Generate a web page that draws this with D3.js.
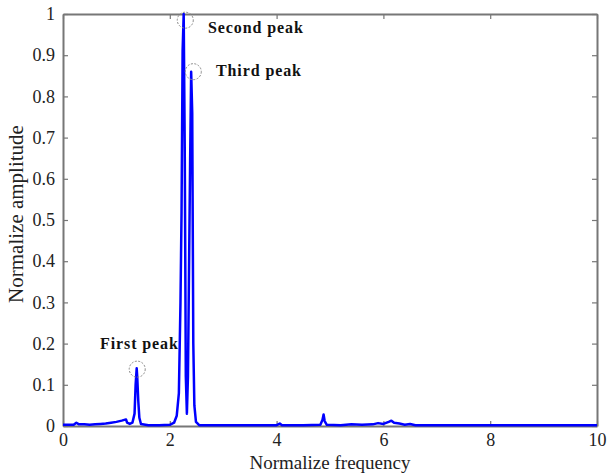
<!DOCTYPE html>
<html>
<head>
<meta charset="utf-8">
<script src="https://cdn.jsdelivr.net/npm/d3@7"></script>
<style>
  body { margin: 0; background: #fff; }
  text { font-family: "Liberation Serif", "Times New Roman", serif; }
</style>
</head>
<body>
<svg id="chart" width="607" height="474"></svg>
<script>
// spectrum
const freq = [0, 0.1, 0.2, 0.25, 0.3, 0.4, 0.5, 0.6, 0.7, 0.8, 0.9, 1.0, 1.1, 1.18, 1.2, 1.25, 1.3, 1.34, 1.36, 1.38, 1.39, 1.41, 1.43, 1.46, 1.6, 1.8, 2.0, 2.08, 2.13, 2.17, 2.2, 2.22, 2.24, 2.26, 2.28, 2.3, 2.32, 2.34, 2.36, 2.38, 2.4, 2.42, 2.44, 2.46, 2.49, 2.55, 2.7, 3.0, 3.5, 4.0, 4.06, 4.1, 4.5, 4.82, 4.86, 4.88, 4.9, 4.94, 5.2, 5.4, 5.6, 5.8, 5.9, 6.0, 6.1, 6.15, 6.2, 6.3, 6.4, 6.5, 6.6, 7.0, 8.0, 9.0, 10];
const amp = [0.003, 0.003, 0.003, 0.008, 0.004, 0.004, 0.003, 0.004, 0.005, 0.006, 0.008, 0.01, 0.013, 0.016, 0.008, 0.005, 0.008, 0.03, 0.1, 0.14, 0.12, 0.06, 0.02, 0.005, 0.002, 0.002, 0.003, 0.008, 0.025, 0.08, 0.3, 0.52, 0.91, 1.0, 0.67, 0.12, 0.03, 0.12, 0.38, 0.635, 0.86, 0.76, 0.2, 0.05, 0.01, 0.002, 0.002, 0.002, 0.002, 0.002, 0.006, 0.002, 0.002, 0.003, 0.015, 0.028, 0.012, 0.003, 0.002, 0.004, 0.003, 0.004, 0.007, 0.005, 0.01, 0.013, 0.008, 0.006, 0.003, 0.005, 0.002, 0.002, 0.002, 0.002, 0.002];

const xTicks = [0, 2, 4, 6, 8, 10];
const yTicks = [0, 0.1, 0.2, 0.3, 0.4, 0.5, 0.6, 0.7, 0.8, 0.9, 1];

const peakNames = ["First peak", "Second peak", "Third peak"];
const peakFreq = [1.39, 2.29, 2.44];
const peakAmp = [0.138, 0.985, 0.86];

const svg = d3.select('#chart');
const margin = { top: 14, right: 10, bottom: 48, left: 63 };
const width = 607, height = 474;

const x = d3.scaleLinear().domain([0, 10]).range([margin.left, width - margin.right]);
const y = d3.scaleLinear().domain([0, 1]).range([height - margin.bottom, margin.top]);

const axisColor = '#777';

// box axes, ticks inward
const axes = [
  { ax: d3.axisBottom(x).tickValues(xTicks).tickFormat(d3.format('d')), t: `translate(0,${y(0)})` },
  { ax: d3.axisTop(x).tickValues(xTicks).tickFormat(''), t: `translate(0,${y(1)})` },
  { ax: d3.axisLeft(y).tickValues(yTicks).tickFormat(d => d === 0 || d === 1 ? d3.format('d')(d) : d3.format('.1f')(d)), t: `translate(${x(0)},0)` },
  { ax: d3.axisRight(y).tickValues(yTicks).tickFormat(''), t: `translate(${x(10)},0)` }
];
axes.forEach((a, i) => {
  const g = svg.append('g').attr('transform', a.t)
    .call(a.ax.tickSizeInner(-5).tickSizeOuter(0).tickPadding(i === 0 ? 7 : 8));
  g.select('.domain').attr('stroke', axisColor).attr('stroke-width', 2);
  g.selectAll('.tick line').attr('stroke', axisColor).attr('stroke-width', 1.2);
  g.selectAll('.tick text').attr('fill', '#222').style('font-size', '18px')
    .style('font-family', '"Liberation Serif", serif');
});

// spectrum line
const pts = freq.map((f, i) => [f, amp[i]]);
svg.append('path')
  .datum(pts)
  .attr('fill', 'none')
  .attr('stroke', '#0000ff')
  .attr('stroke-width', 2.5)
  .attr('stroke-linejoin', 'round')
  .attr('d', d3.line().x(d => x(d[0])).y(d => y(d[1])));

// peak markers
peakFreq.forEach((f, i) => {
  svg.append('circle')
    .attr('cx', x(f)).attr('cy', y(peakAmp[i]))
    .attr('r', 8)
    .attr('fill', 'none')
    .attr('stroke', '#888')
    .attr('stroke-width', 1)
    .attr('stroke-dasharray', '2,1.5');
});

const labelPos = [[100, 349], [208, 33], [216, 76]];
peakNames.forEach((n, i) => {
  svg.append('text')
    .attr('x', labelPos[i][0]).attr('y', labelPos[i][1])
    .attr('font-weight', 'bold')
    .style('font-size', '16px')
    .style('letter-spacing', '0.9px')
    .attr('fill', '#111')
    .text(n);
});

// axis titles
svg.append('text')
  .attr('x', x(5)).attr('y', 469)
  .attr('text-anchor', 'middle')
  .style('font-size', '19px')
  .attr('fill', '#222')
  .text('Normalize frequency');

svg.append('text')
  .attr('transform', `translate(23,214) rotate(-90)`)
  .attr('text-anchor', 'middle')
  .style('font-size', '21px')
  .attr('fill', '#222')
  .text('Normalize amplitude');
</script>
</body>
</html>
